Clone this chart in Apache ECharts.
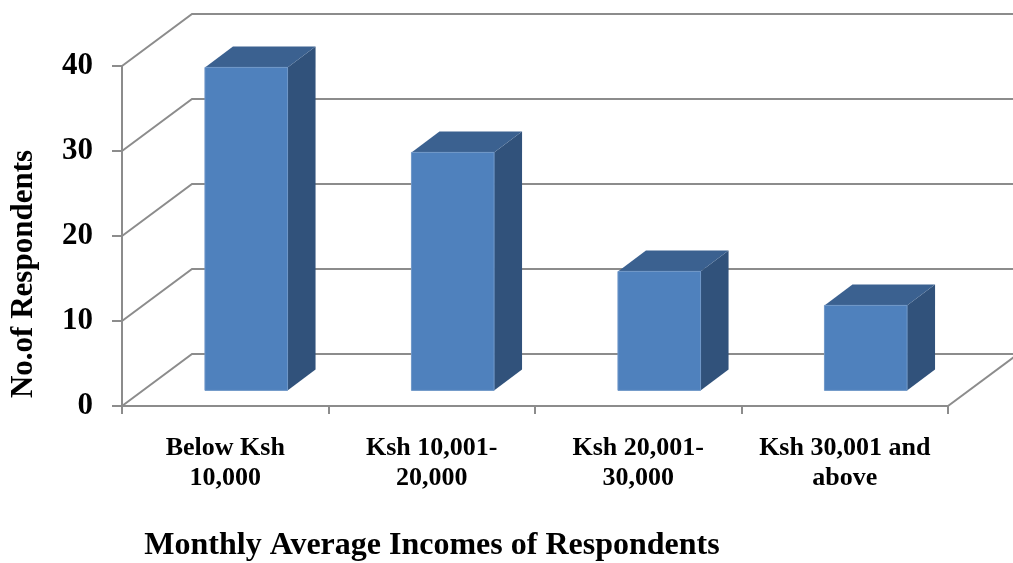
<!DOCTYPE html>
<html>
<head>
<meta charset="utf-8">
<title>Monthly Average Incomes of Respondents</title>
<script src="https://cdn.jsdelivr.net/npm/echarts@6/dist/echarts.min.js"></script>
<style>
  html, body { margin: 0; padding: 0; background: #fff; }
  #main { width: 1013px; height: 563px; }
</style>
</head>
<body>
<div id="main"></div>
<script>
// data
const categories = ['Below Ksh\n10,000', 'Ksh 10,001-\n20,000', 'Ksh 20,001-\n30,000', 'Ksh 30,001 and\nabove'];
const respondents = [38, 28, 14, 10];
const yTicks = [0, 10, 20, 30, 40];

// 3d look: how far the back wall sits from the front plane (px)
const DEPTH_X = 70;
const DEPTH_Y = 52;
const BAR_FRONT = 0.3;   // where the bar's front face sits in the depth
const BAR_DEPTH = 0.4;   // how deep the bar is
const BAR_WIDTH = 0.4;   // share of the category width

const FONT = '"Liberation Serif", "Times New Roman", serif';
const LINE_COLOR = '#8c8c8c';
const LINE_W = 2;

const chart = echarts.init(document.getElementById('main'), null, { renderer: 'canvas' });

// back wall grid lines, side wall diagonals and floor edge
function renderWall(params, api) {
  const cs = params.coordSys;
  const v = api.value(1);
  const y = api.coord([0, v])[1];
  const x0 = cs.x;
  const x1 = cs.x + cs.width;
  const children = [{
    type: 'polyline',
    shape: { points: [[x0, y], [x0 + DEPTH_X, y - DEPTH_Y], [x1 + DEPTH_X, y - DEPTH_Y]] },
    style: { stroke: LINE_COLOR, lineWidth: LINE_W, fill: null }
  }];
  if (v === 0) {
    children.push({
      type: 'line',
      shape: { x1: x1, y1: y, x2: x1 + DEPTH_X, y2: y - DEPTH_Y },
      style: { stroke: LINE_COLOR, lineWidth: LINE_W }
    });
  }
  return { type: 'group', children: children };
}

// one 3d column: front face, right side, top
function renderBar(params, api) {
  const idx = api.value(0);
  const val = api.value(1);
  const top = api.coord([idx, val]);
  const base = api.coord([idx, 0]);
  const bw = api.size([1, 0])[0] * BAR_WIDTH;
  const ox = DEPTH_X * BAR_FRONT, oy = DEPTH_Y * BAR_FRONT;
  const dx = DEPTH_X * BAR_DEPTH, dy = DEPTH_Y * BAR_DEPTH;
  const xl = top[0] - bw / 2 + ox;
  const xr = xl + bw;
  const yt = top[1] - oy;
  const yb = base[1] - oy;
  return {
    type: 'group',
    children: [
      {
        type: 'polygon',
        shape: { points: [[xr, yt], [xr + dx, yt - dy], [xr + dx, yb - dy], [xr, yb]] },
        style: { fill: '#31527b' }
      },
      {
        type: 'polygon',
        shape: { points: [[xl, yt], [xl + dx, yt - dy], [xr + dx, yt - dy], [xr, yt]] },
        style: { fill: '#3b6190' }
      },
      {
        type: 'rect',
        shape: { x: xl, y: yt, width: bw, height: yb - yt },
        style: { fill: '#4f81bd', stroke: '#6f97c8', lineWidth: 1 }
      }
    ]
  };
}

const option = {
  backgroundColor: '#fff',
  animation: false,
  grid: {
    left: 122,
    right: 65,
    top: 66,
    bottom: 157,
    containLabel: false,
    outerBoundsMode: 'none'
  },
  xAxis: {
    type: 'category',
    data: categories,
    boundaryGap: true,
    axisLine: { show: true, lineStyle: { color: LINE_COLOR, width: LINE_W } },
    axisTick: { show: true, length: 8, alignWithLabel: false, lineStyle: { color: LINE_COLOR, width: LINE_W } },
    axisLabel: {
      interval: 0,
      margin: 27,
      color: '#000',
      fontFamily: FONT,
      fontWeight: 'bold',
      fontSize: 26,
      lineHeight: 30,
      align: 'center'
    },
    splitLine: { show: false }
  },
  yAxis: {
    type: 'value',
    min: 0,
    max: 40,
    interval: 10,
    axisLine: { show: true, lineStyle: { color: LINE_COLOR, width: LINE_W } },
    axisTick: { show: true, length: 10, lineStyle: { color: LINE_COLOR, width: LINE_W } },
    axisLabel: {
      margin: 29,
      color: '#000',
      fontFamily: FONT,
      fontWeight: 'bold',
      fontSize: 31
    },
    splitLine: { show: false }
  },
  graphic: [
    {
      type: 'text',
      x: 432,
      y: 546,
      style: {
        text: 'Monthly Average Incomes of Respondents',
        fill: '#000',
        font: 'bold 32px ' + FONT,
        align: 'center',
        verticalAlign: 'middle'
      }
    },
    {
      type: 'text',
      x: 24,
      y: 274,
      rotation: Math.PI / 2,
      style: {
        text: 'No.of Respondents',
        fill: '#000',
        font: 'bold 31px ' + FONT,
        align: 'center',
        verticalAlign: 'middle'
      }
    }
  ],
  series: [
    {
      name: 'wall',
      type: 'custom',
      z: 1,
      silent: true,
      clip: false,
      renderItem: renderWall,
      encode: { x: 0, y: 1 },
      data: yTicks.map(v => [0, v])
    },
    {
      name: 'Respondents',
      type: 'custom',
      z: 3,
      clip: false,
      renderItem: renderBar,
      encode: { x: 0, y: 1 },
      data: respondents.map((v, i) => [i, v])
    }
  ]
};

chart.setOption(option);
</script>
</body>
</html>
